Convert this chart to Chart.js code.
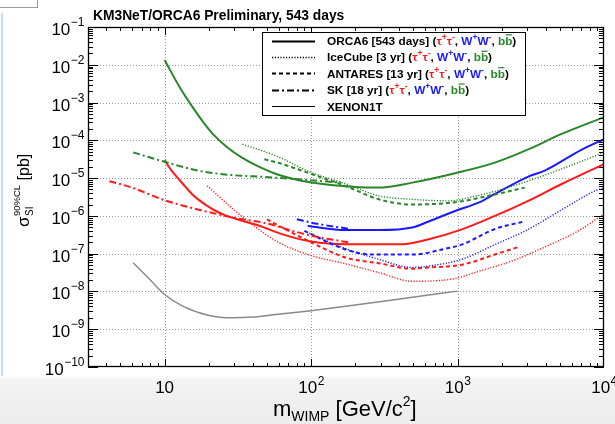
<!DOCTYPE html>
<html><head><meta charset="utf-8">
<script src="https://cdn.jsdelivr.net/npm/chart.js@4/dist/chart.umd.min.js"></script>
<style>
html,body{margin:0;padding:0;}
body{width:615px;height:424px;overflow:hidden;position:relative;
 background:linear-gradient(to bottom,#ffffff 0px,#ffffff 375px,#f3f3f3 381px,#ececec 424px);}
#c{position:absolute;left:0;top:0;}
#blue{position:absolute;left:1px;top:13px;width:2px;height:363px;background:#c6dcee;}
#corner{position:absolute;left:-2px;top:-2px;width:38px;height:8px;border:1px solid #9a9a9a;}
</style></head>
<body>
<div id="blue"></div><div id="corner"></div>
<canvas id="c" width="615" height="424"></canvas>
<script>
// ---------------- data (mass GeV/c^2, sigma pb) ----------------
const orcaTau   = [[10,3.0e-5],[11.16,1.58e-5],[12.65,8.9e-6],[14.1,5.5e-6],[15.5,3.7e-6],[17.3,2.57e-6],[19.3,1.9e-6],[21.9,1.41e-6],[26,1.03e-6],[32.4,7.8e-7],[44.3,5.5e-7],[64,3.24e-7],[100,2.1e-7],[180,1.78e-7],[420,1.78e-7],[635,2.4e-7],[1070,4.4e-7],[1800,1.0e-6],[3040,2.5e-6],[5180,7.1e-6],[10000,2.34e-5]];
const orcaWW    = [[95,5.4e-7],[172,4.2e-7],[290,4.2e-7],[490,4.9e-7],[635,7.1e-7],[964,1.35e-6],[1390,2.24e-6],[1800,3.8e-6],[3040,1.1e-5],[3940,1.58e-5],[7000,5.6e-5],[10000,1.07e-4]];
const orcaBB    = [[10,1.34e-2],[12.65,2.59e-3],[15.5,7.66e-4],[18.2,3.16e-4],[21.3,1.48e-4],[26.6,6.7e-5],[34,3.42e-5],[44.3,1.98e-5],[57.7,1.29e-5],[76,9.5e-6],[100,7.7e-6],[200,5.8e-6],[290,5.6e-6],[490,7.6e-6],[964,1.35e-5],[1800,2.57e-5],[3040,5.75e-5],[5000,1.41e-4],[10000,4.1e-4]];
const icecubeTau= [[19.5,6.3e-6],[29,1.58e-6],[42,5.0e-7],[60,2.0e-7],[100,8.9e-8],[172,5.4e-8],[290,3.16e-8],[490,1.86e-8],[964,2.2e-8],[1390,3.4e-8],[2330,6.3e-8],[3940,1.5e-7],[6670,4.0e-7],[10000,1.12e-6]];
const icecubeWW = [[97,3.5e-7],[181,1.26e-7],[290,7.1e-8],[490,4.3e-8],[635,4.7e-8],[1070,7.1e-8],[1800,1.74e-7],[3040,4.4e-7],[5180,1.48e-6],[8700,4.6e-6],[10000,5.6e-6]];
const icecubeBB = [[34,7.9e-5],[57.5,3.9e-5],[100,1.41e-5],[172,7.1e-6],[290,3.4e-6],[490,2.75e-6],[866,2.5e-6],[1390,3.5e-6],[2330,6.0e-6],[3940,1.2e-5],[6670,2.57e-5],[10000,4.8e-5]];
const antaresTau= [[50,8.1e-7],[67,4.4e-7],[100,2.0e-7],[172,7.9e-8],[290,5.6e-8],[490,4.0e-8],[635,4.3e-8],[1070,5.1e-8],[1800,9.5e-8],[2600,1.5e-7]];
const antaresWW = [[90,4.0e-7],[172,1.29e-7],[261,9.5e-8],[490,9.5e-8],[866,1.41e-7],[1070,1.74e-7],[1800,4.5e-7],[2900,7.2e-7]];
const antaresBB = [[48,3.16e-5],[60.5,2.5e-5],[102,1.26e-5],[172,6.2e-6],[290,2.75e-6],[490,2.0e-6],[964,2.3e-6],[1800,3.7e-6],[2880,5.6e-6]];
const skTau     = [[4.2,8.3e-6],[6,5.6e-6],[10,2.6e-6],[15,1.66e-6],[20,1.26e-6],[30,8.9e-7],[50,6.3e-7],[75,4.0e-7],[100,3.0e-7],[185,1.95e-7]];
const skWW      = [[80,8.1e-7],[107,6.3e-7],[185,4.5e-7]];
const skBB      = [[6.1,4.8e-5],[10,2.7e-5],[17.3,1.55e-5],[29,1.2e-5],[49,1.07e-5],[82,9.3e-6],[120,8.3e-6],[160,7.6e-6]];
const xenon1t   = [[6.1,5.75e-8],[7.9,2.1e-8],[10,8.3e-9],[13.3,4.1e-9],[20.2,2.3e-9],[29,2.0e-9],[40,2.1e-9],[57.5,2.45e-9],[100,3.1e-9],[212,4.5e-9],[464,6.8e-9],[1000,1.02e-8]];

const xTickValues = [10,100,1000,10000];
const xTickExps   = [1,2,3,4];
const yTickExps   = [-1,-2,-3,-4,-5,-6,-7,-8,-9,-10];
const legendNames = ['ORCA6 [543 days] (','IceCube [3 yr] (','ANTARES [13 yr] (','SK [18 yr] (','XENON1T'];
const titleText = 'KM3NeT/ORCA6 Preliminary, 543 days';

// ---------------- styles ----------------
const RED='#ff1a1a', BLUE='#1a1aff', GREEN='#2a862a', GRAY='#8a8a8a';
const FONT='"Liberation Sans", Arial, Helvetica, sans-serif';
const ST = {
  orca:   {w:2.0, dash:[]},
  ice:    {w:1.4, dash:[1.2,1.6]},
  ant:    {w:2.0, dash:[4,3]},
  sk:     {w:2.0, dash:[7,3,2,3]},
  xen:    {w:1.5, dash:[]}
};
const series = [
  [xenon1t,GRAY,'xen'],
  [skBB,GREEN,'sk'],[skTau,RED,'sk'],[skWW,BLUE,'sk'],
  [icecubeBB,GREEN,'ice'],[icecubeTau,RED,'ice'],[icecubeWW,BLUE,'ice'],
  [antaresBB,GREEN,'ant'],[antaresTau,RED,'ant'],[antaresWW,BLUE,'ant'],
  [orcaBB,GREEN,'orca'],[orcaTau,RED,'orca'],[orcaWW,BLUE,'orca']
];

function line(ctx,x1,y1,x2,y2){ctx.beginPath();ctx.moveTo(x1,y1);ctx.lineTo(x2,y2);ctx.stroke();}

function drawRich(ctx,x,y,segs,size){
  for(const s of segs){
    const fs = s.sup ? size*0.72 : size;
    ctx.font = 'bold '+fs+'px '+FONT;
    ctx.fillStyle = s.c || '#000';
    ctx.textAlign='left'; ctx.textBaseline='alphabetic';
    const dy = s.sup ? -size*0.42 : 0;
    ctx.fillText(s.t,x,y+dy);
    const w = ctx.measureText(s.t).width;
    if(s.bar){
      const wl = ctx.measureText(s.t.slice(-1)).width;
      ctx.strokeStyle = s.c; ctx.lineWidth=1.2; ctx.setLineDash([]);
      line(ctx,x+w-wl+0.5,y-size*0.86,x+w-0.5,y-size*0.86);
    }
    x += w;
  }
  return x;
}
const chanSegs = [
  {t:'τ',c:RED},{t:'+',c:RED,sup:true},{t:'τ',c:RED},{t:'-',c:RED,sup:true},{t:', '},
  {t:'W',c:BLUE},{t:'+',c:BLUE,sup:true},{t:'W',c:BLUE},{t:'-',c:BLUE,sup:true},{t:', '},
  {t:'bb',c:GREEN,bar:true},{t:')'}
];

function drawPow(ctx,exp,x,yBase,align,supDy){
  const b='10', e = String(exp).replace('-','−');
  ctx.font='17px '+FONT; const wb=ctx.measureText(b).width;
  ctx.font='12px '+FONT; const we = exp===1?0:ctx.measureText(e).width;
  let sx;
  if(align==='right') sx = x - wb - we; else sx = x - (wb+we)/2;
  ctx.fillStyle='#000'; ctx.textAlign='left'; ctx.textBaseline='alphabetic';
  ctx.font='17px '+FONT; ctx.fillText(b,sx,yBase);
  if(exp!==1){ ctx.font='12px '+FONT; ctx.fillText(e,sx+wb+0.5,yBase+supDy); }
}

const deco = {
  id:'deco',
  beforeDatasetsDraw(chart){
    const {ctx,chartArea:a,scales:{x,y}} = chart;
    ctx.save();
    ctx.strokeStyle='#9a9a9a'; ctx.lineWidth=1; ctx.setLineDash([1,2]);
    for(const v of xTickValues){ if(v>=10000) continue; const px=Math.round(x.getPixelForValue(v))+0.5; line(ctx,px,a.top,px,a.bottom); }
    for(const e of yTickExps){ if(e===-1||e===-10) continue; const py=Math.round(y.getPixelForValue(Math.pow(10,e)))+0.5; line(ctx,a.left,py,a.right,py); }
    ctx.restore();
  },
  afterDatasetsDraw(chart){
    const {ctx,chartArea:a,scales:{x,y}} = chart;
    ctx.save();
    ctx.setLineDash([]); ctx.strokeStyle='#000'; ctx.lineWidth=1;
    for(let k=0;k<=3;k++){
      for(let m=1;m<=9;m++){
        const v=m*Math.pow(10,k); if(v<3||v>10000) continue;
        const px=Math.round(x.getPixelForValue(v))+0.5;
        const L = m===1?8:4;
        line(ctx,px,a.bottom,px,a.bottom-L);
        line(ctx,px,a.top,px,a.top+L);
      }
    }
    for(let k=-10;k<=-1;k++){
      for(let m=1;m<=9;m++){
        const v=m*Math.pow(10,k); if(v>0.1000001) continue;
        const py=Math.round(y.getPixelForValue(v))+0.5;
        const L = m===1?10:5;
        line(ctx,a.left,py,a.left+L,py);
        line(ctx,a.right,py,a.right-L,py);
      }
    }
    ctx.lineWidth=1.3;
    ctx.strokeRect(a.left+0.5,a.top+0.5,a.right-a.left-1,a.bottom-a.top-1);
    for(const e of yTickExps){
      const py=y.getPixelForValue(Math.pow(10,e));
      drawPow(ctx,e,84,py+8,'right',-9);
    }
    xTickValues.forEach((v,i)=>{
      const px=x.getPixelForValue(v);
      drawPow(ctx,xTickExps[i],px,393,'center',-8);
    });
    ctx.font='bold 13.8px '+FONT; ctx.fillStyle='#000'; ctx.textAlign='left'; ctx.textBaseline='alphabetic';
    ctx.fillText(titleText,93,20);
    let xx=273; const yb=416;
    ctx.font='22px '+FONT; ctx.fillText('m',xx,yb); xx+=ctx.measureText('m').width;
    ctx.font='14px '+FONT; ctx.fillText('WIMP',xx,yb+5); xx+=ctx.measureText('WIMP').width;
    ctx.font='22px '+FONT; ctx.fillText(' [GeV/c',xx,yb); xx+=ctx.measureText(' [GeV/c').width;
    ctx.font='14px '+FONT; ctx.fillText('2',xx,yb-10); xx+=ctx.measureText('2').width;
    ctx.font='22px '+FONT; ctx.fillText(']',xx,yb);
    ctx.save();
    ctx.translate(29,227); ctx.rotate(-Math.PI/2);
    let tx=0;
    ctx.font='17px '+FONT; ctx.fillText('σ',tx,0); tx+=ctx.measureText('σ').width+0.5;
    ctx.font='9.5px '+FONT; ctx.fillText('90%CL',tx,-9); const wsup=ctx.measureText('90%CL').width;
    ctx.font='10px '+FONT; ctx.fillText('SI',tx,4);
    tx+=wsup;
    ctx.font='16px '+FONT; ctx.fillText(' [pb]',tx,0);
    ctx.restore();
    const lx=262, ly=32, lw=263, lh=83;
    ctx.fillStyle='#fff'; ctx.fillRect(lx,ly,lw,lh);
    ctx.strokeStyle='#000'; ctx.lineWidth=1; ctx.setLineDash([]);
    ctx.strokeRect(lx+0.5,ly+0.5,lw,lh);
    const keys=['orca','ice','ant','sk','xen'];
    keys.forEach((k,i)=>{
      const cy = 40.5 + i*16.4;
      const st=ST[k];
      ctx.strokeStyle = '#000';
      ctx.lineWidth = k==='xen'?1:st.w; ctx.setLineDash(st.dash);
      line(ctx,272,Math.round(cy)+0.5,315,Math.round(cy)+0.5);
      ctx.setLineDash([]);
      const segs=[{t:legendNames[i]}].concat(k==='xen'?[]:chanSegs);
      drawRich(ctx,327,cy+4.5,segs,11.8);
    });
    ctx.restore();
  }
};

const datasets = series.map(([pts,color,k])=>({
  data: pts.map(([m,s])=>({x:m,y:s})),
  showLine:true, borderColor:color, backgroundColor:color,
  borderWidth:ST[k].w, borderDash:ST[k].dash, pointRadius:0,
  cubicInterpolationMode:'monotone', fill:false
}));

new Chart(document.getElementById('c'),{
  type:'scatter',
  data:{datasets},
  options:{
    responsive:false, animation:false, events:[],
    layout:{padding:{left:88,top:27,right:11,bottom:57}},
    plugins:{legend:{display:false},tooltip:{enabled:false}},
    scales:{
      x:{type:'logarithmic',min:3,max:10000,display:false},
      y:{type:'logarithmic',min:1e-10,max:1e-1,display:false}
    }
  },
  plugins:[deco]
});
</script>
</body></html>
